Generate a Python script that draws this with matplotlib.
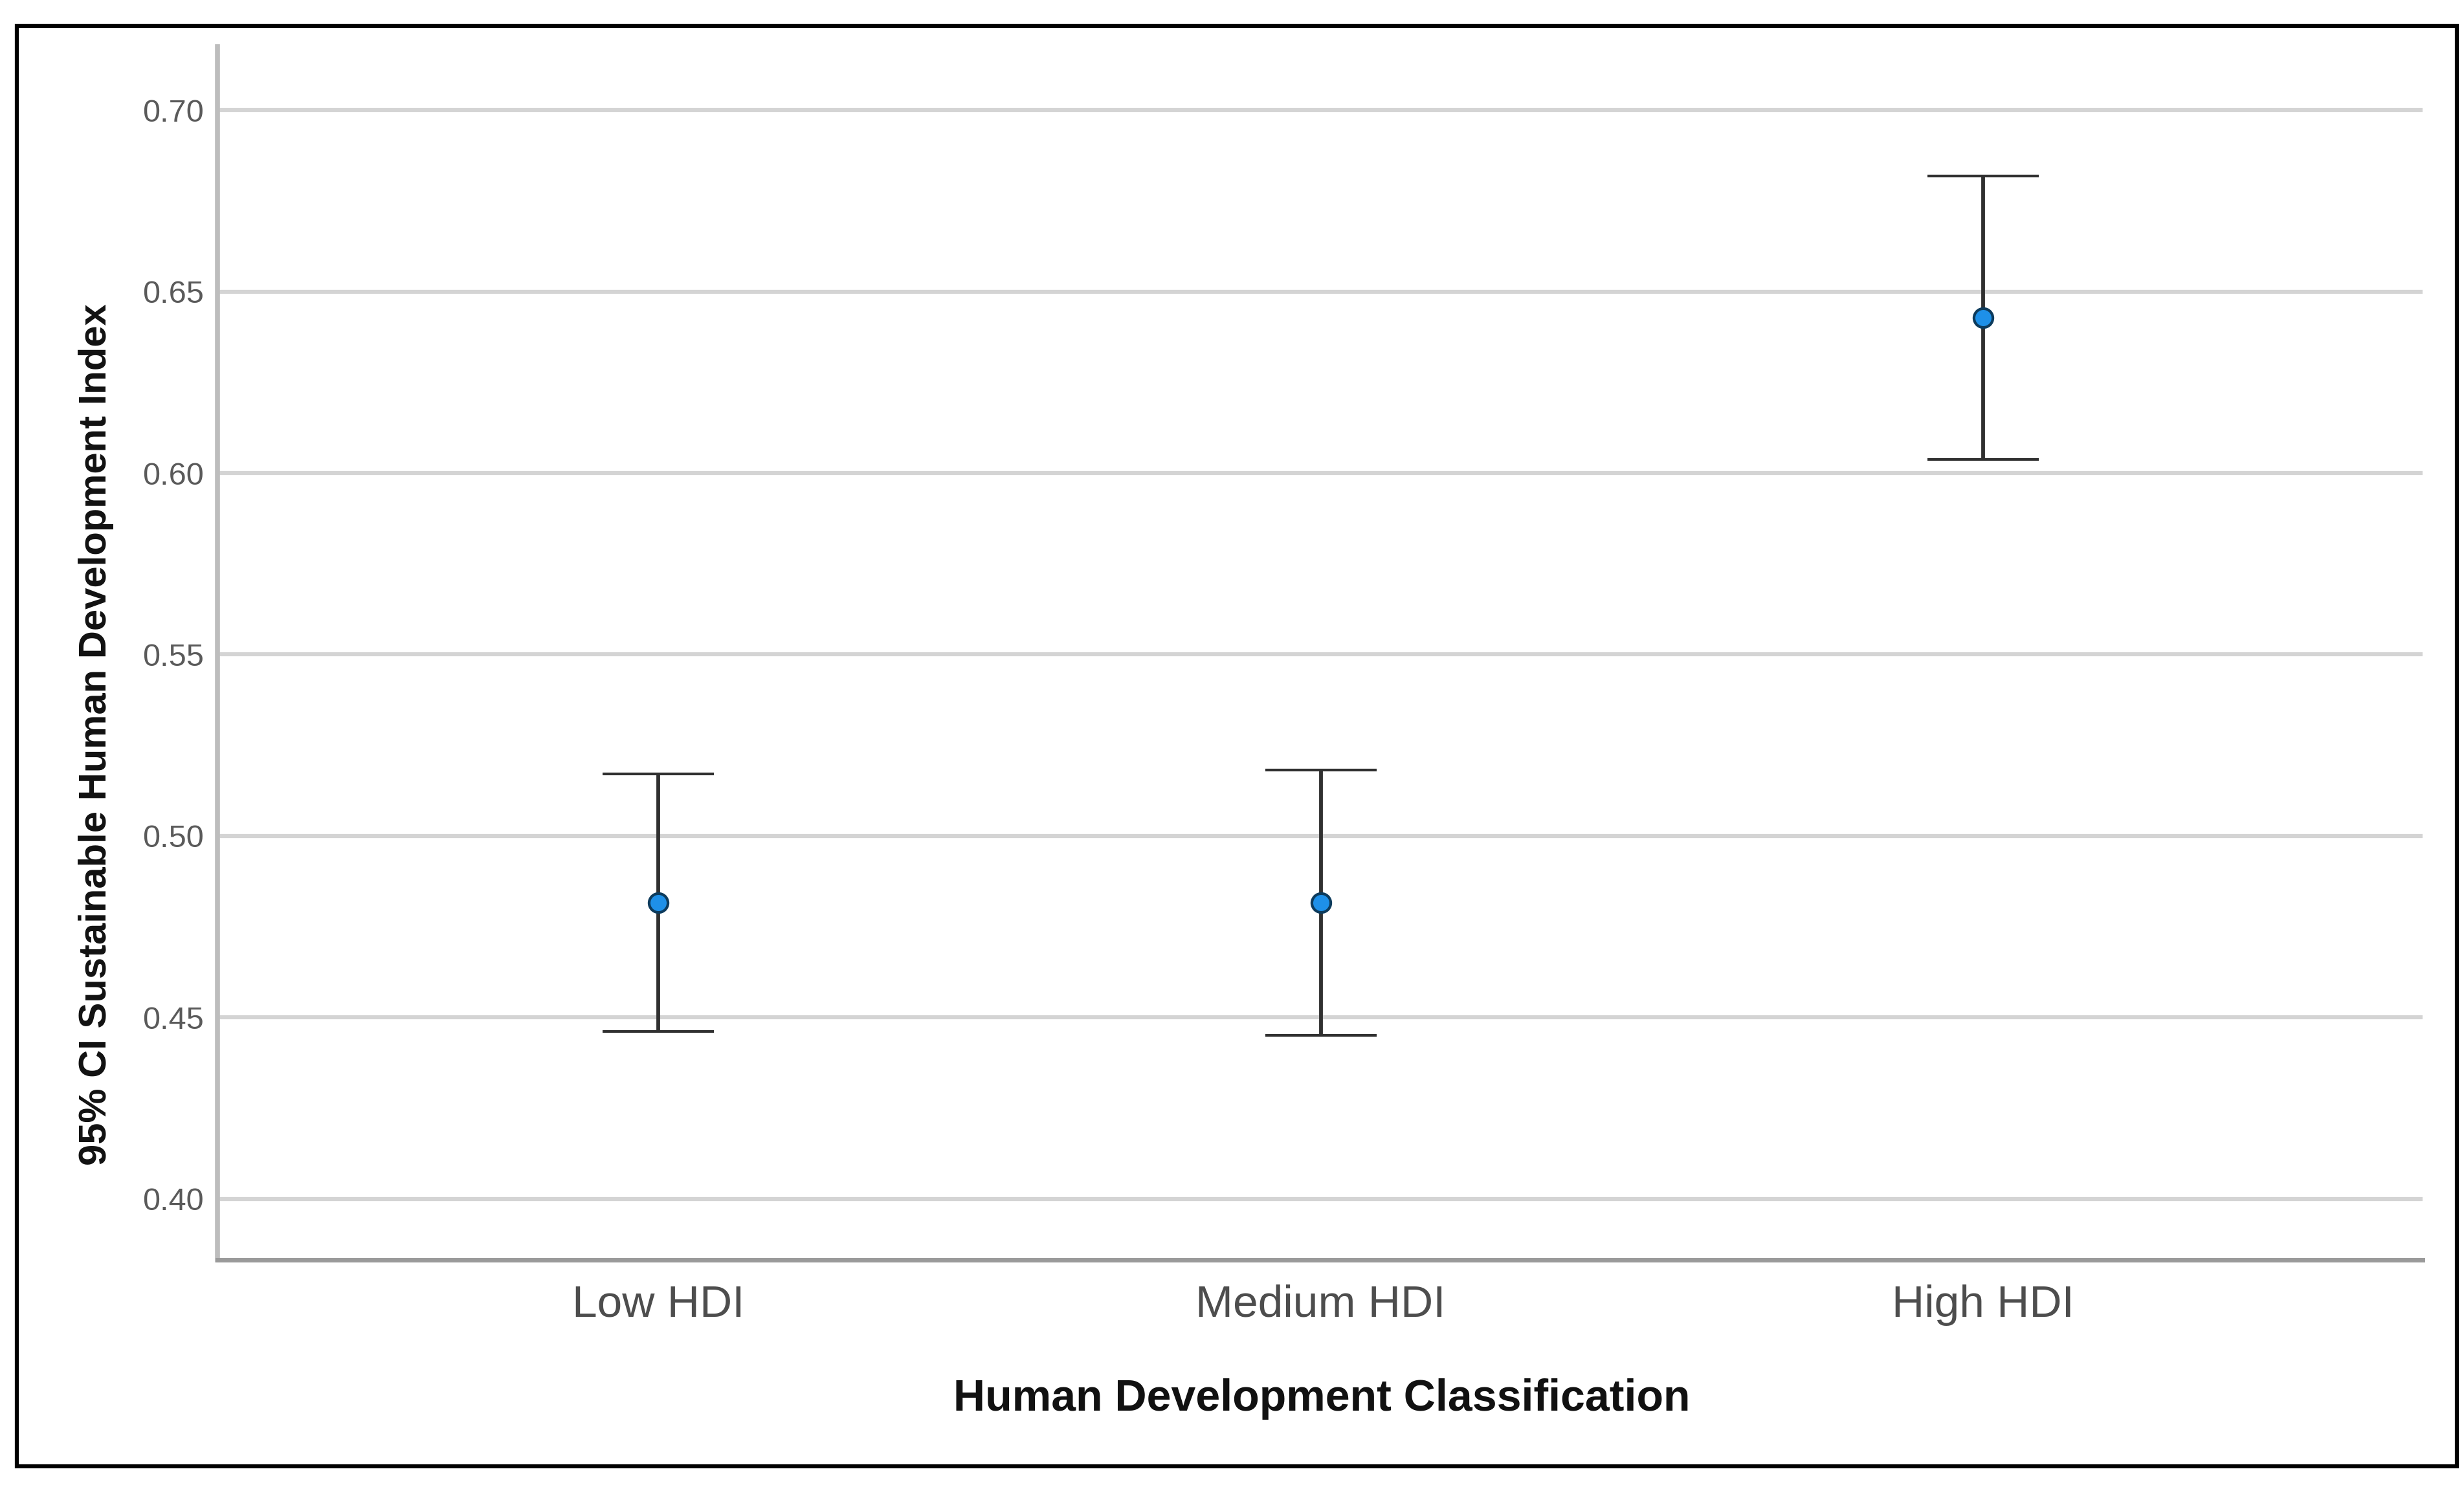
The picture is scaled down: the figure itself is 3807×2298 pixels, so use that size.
import numpy as np
import matplotlib
matplotlib.use('Agg')
import matplotlib.pyplot as plt
from matplotlib import font_manager
from matplotlib.patches import Rectangle

# Data (95% CI of the index per HDI class)
categories = ['Low HDI', 'Medium HDI', 'High HDI']
means = [0.4816, 0.4816, 0.6428]
ci_lower = [0.4462, 0.4450, 0.6037]
ci_upper = [0.5171, 0.5182, 0.6819]
y_ticks = [0.40, 0.45, 0.50, 0.55, 0.60, 0.65, 0.70]


def has_font(name):
    try:
        font_manager.findfont(font_manager.FontProperties(family=name),
                              fallback_to_default=False)
        return True
    except Exception:
        return False


plt.rcParams['font.family'] = ['Liberation Sans', 'DejaVu Sans']
narrow = has_font('Liberation Sans Narrow')

fig = plt.figure(figsize=(38.07, 22.98), dpi=100)
ax = fig.add_axes([0.08826, 0.15274, 0.98319 - 0.08826, 0.96867 - 0.15274])

x_pos = np.arange(len(categories))
means_arr = np.array(means)
yerr = [means_arr - np.array(ci_lower), np.array(ci_upper) - means_arr]

eb = ax.errorbar(x_pos, means_arr, yerr=yerr, fmt='o', color='#333333',
                 ecolor='#303030', elinewidth=4.2, capsize=62, capthick=5.5,
                 markersize=21, markerfacecolor='#1e90e8', markeredgecolor='#0d3b5c',
                 markeredgewidth=3, zorder=3)
# caps are a bit lighter than the whiskers
for cap in eb[1]:
    cap.set_color('#4a4a4a')

ax.set_xlim(-0.665, 2.663)
ax.set_ylim(0.3832, 0.7175)
ax.set_yticks(y_ticks)
ax.set_yticklabels(['%.2f' % t for t in y_ticks])
ax.set_xticks(x_pos)
ax.set_xticklabels(categories)

ax.grid(axis='y', color='#d4d4d4', linewidth=4.5, zorder=0)
ax.set_axisbelow(True)

for s in ['top', 'right']:
    ax.spines[s].set_visible(False)
ax.spines['left'].set_color('#bdbdbd')
ax.spines['left'].set_linewidth(5.5)
ax.spines['bottom'].set_color('#9a9a9a')
ax.spines['bottom'].set_linewidth(5)

ax.tick_params(axis='y', length=0, pad=15, labelsize=35, labelcolor='#5a5a5a')
ax.tick_params(axis='x', length=0, pad=27, labelsize=50, labelcolor='#4d4d4d')

# axis titles
fig.text(2042 / 3807, 1 - 2180 / 2298, 'Human Development Classification',
         ha='center', va='baseline', fontsize=49, fontweight='bold', color='#111111')
if narrow:
    fig.text(121 / 3807, 1 - 1135 / 2298, '95% CI Sustainable Human Development Index',
             rotation=90, ha='left', va='center', fontsize=52, fontweight='bold',
             family=['Liberation Sans Narrow', 'DejaVu Sans'], color='#111111')
else:
    fig.text(121 / 3807, 1 - 1135 / 2298, '95% CI Sustainable Human Development Index',
             rotation=90, ha='left', va='center', fontsize=43, fontweight='bold',
             color='#111111')

# black frame round the whole chart
fig.patches.append(Rectangle((0.00683, 0.01393), 0.99711 - 0.00683, 0.98259 - 0.01393,
                             transform=fig.transFigure, fill=False,
                             edgecolor='black', linewidth=4.5))

fig.savefig('out.png', dpi=100, facecolor='white')
